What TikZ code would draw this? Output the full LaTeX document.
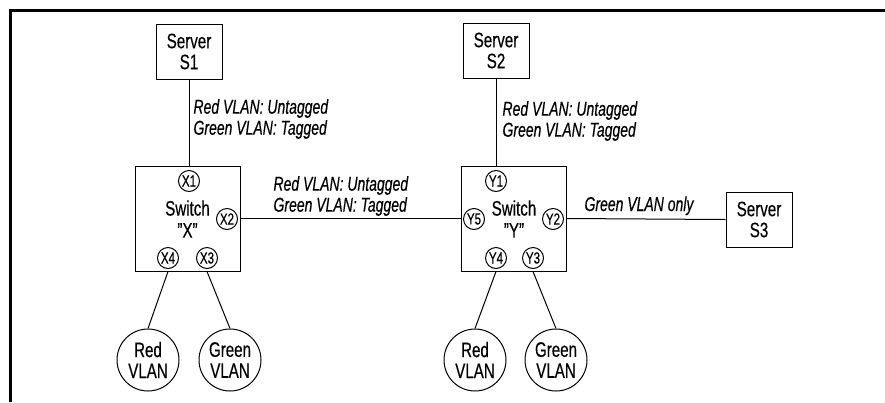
\documentclass[tikz,border=0pt]{standalone}
\usepackage{fontspec}
\setmainfont{Liberation Sans}[FakeStretch=0.72,FakeBold=0.4]
\newfontfamily\lblfont{Liberation Sans}[FakeStretch=0.70,FakeBold=0.4]
\newcommand{\sq}{\symbol{34}}
\begin{document}
\begin{tikzpicture}[x=1pt,y=-1pt,
  every path/.style={line width=1pt},
  mainfont/.style={font=\fontsize{21}{21}\selectfont},
  srv/.style={draw, mainfont, align=center, minimum width=66pt, minimum height=55pt, inner sep=0pt},
  sw/.style={draw, minimum width=105pt, minimum height=105pt, inner sep=0pt},
  swtext/.style={align=center, inner sep=0pt, font=\fontsize{21}{22}\selectfont},
  port/.style={circle, draw, minimum size=21pt, inner sep=0pt, font=\fontsize{16}{16}\selectfont},
  vlan/.style={circle, draw, minimum size=62pt, inner sep=0pt, align=center, mainfont},
  lbl/.style={anchor=west, align=left, inner sep=0pt, font=\fontsize{20}{21}\lblfont\itshape}
]
\useasboundingbox (0,0) rectangle (885,402);
\draw[line width=3pt] (10.5,402) -- (10.5,10.5) -- (885,10.5);

% servers
\node[srv] (s1) at (189,51.5) {Server\\S1};
\node[srv] (s2) at (496,50.5) {Server\\S2};
\node[srv] (s3) at (759,219.5) {Server\\S3};

% switches
\node[sw] (swx) at (187.5,218.5) {};
\node[swtext] (swxt) at (187.5,219) {Switch\\\sq X\sq};
\node[sw] (swy) at (514,218.5) {};
\node[swtext] (swyt) at (514,219) {Switch\\\sq Y\sq};

% ports
\node[port] (x1) at (189,181) {X1};
\node[port] (x2) at (227,219) {X2};
\node[port] (x4) at (168,258) {X4};
\node[port] (x3) at (207,258) {X3};
\node[port] (y1) at (496,181) {Y1};
\node[port] (y5) at (474,219) {Y5};
\node[port] (y2) at (553,219) {Y2};
\node[port] (y4) at (496,258) {Y4};
\node[port] (y3) at (533,258) {Y3};

% VLANs
\node[vlan] (redx) at (148,360) {Red\\VLAN};
\node[vlan] (greenx) at (230,360) {Green\\VLAN};
\node[vlan] (redy) at (475,360) {Red\\VLAN};
\node[vlan] (greeny) at (556,360) {Green\\VLAN};

% connectors
\draw (s1.south) -- (s1.south |- swx.north);
\draw (s2.south) -- (s2.south |- swy.north);
\draw (swx.east) -- (swy.west);
\draw (swy.east) -- (s3.west);
\draw (x4 |- swx.south) -- (redx.north);
\draw (x3 |- swx.south) -- (greenx.north);
\draw (y4 |- swy.south) -- (redy.north);
\draw (y3 |- swy.south) -- (greeny.north);

% labels
\node[lbl] (l1) at (193,119) {Red VLAN: Untagged\\Green VLAN: Tagged};
\node[lbl] (l2) at (502,121) {Red VLAN: Untagged\\Green VLAN: Tagged};
\node[lbl] (l3) at (273,196) {Red VLAN: Untagged\\Green VLAN: Tagged};
\node[lbl, anchor=base west] (l4) at (584,211) {Green VLAN only};
\end{tikzpicture}
\end{document}
